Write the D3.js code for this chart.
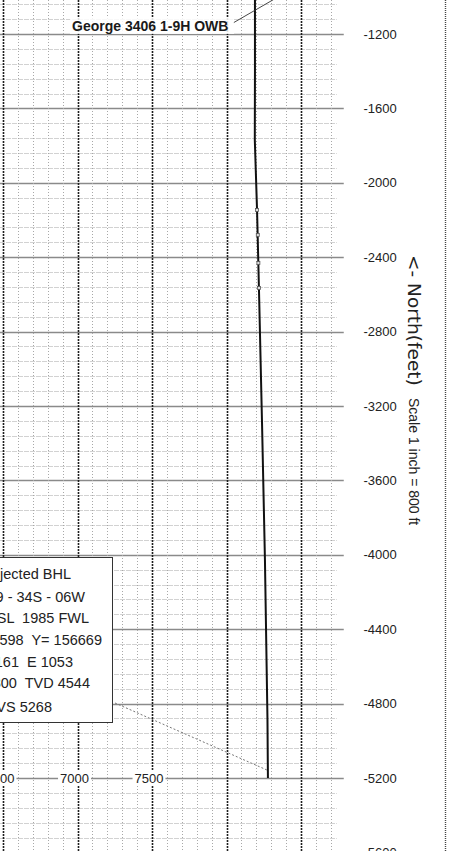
<!DOCTYPE html>
<html>
<head>
<meta charset="utf-8">
<script src="https://cdn.jsdelivr.net/npm/d3@7"></script>
<style>
  body { margin: 0; background: #fff; }
  svg { display: block; background: #fff; }
  text { font-family: "Liberation Sans", Arial, sans-serif; fill: #222; white-space: pre; }
</style>
</head>
<body>
<div id="chart"></div>
<script>
const width = 450;
const height = 851;

// well path (feet)
const trajEast = [8191, 8191, 8190, 8205, 8218, 8238, 8258, 8275, 8278];
const trajNorth = [-900, -1400, -1770, -2146, -2576, -3275, -4028, -4888, -5200];
// survey stations shown as tiny squares
const surveyEast = [8205, 8210, 8214, 8218];
const surveyNorth = [-2146, -2280, -2431, -2565];

const northTicks = [-1200, -1600, -2000, -2400, -2800, -3200, -3600, -4000, -4400, -4800, -5200, -5600];
const eastTicks = [6500, 7000, 7500];

const wellName = "George 3406 1-9H OWB";
const legendLines = [
  "Projected BHL",
  "Sec 9 - 34S - 06W",
  "660 FSL  1985 FWL",
  "X= 2130598  Y= 156669",
  "N -5161  E 1053",
  "MD 5800  TVD 4544",
  "VS 5268",
];

const x = d3.scaleLinear().domain([6500, 8500]).range([3, 301]);
const y = d3.scaleLinear().domain([-1200, -5200]).range([34, 778]);

const svg = d3
  .select("#chart")
  .append("svg")
  .attr("width", width)
  .attr("height", height);

// ---- grid ----
const gridRight = x(8740);
const grid = svg.append("g");

// horizontal lines every 80 ft, heavier every 400 ft
d3.range(-800, -5840, -80).forEach((v) => {
  const major = v % 400 === 0;
  const half = v % 200 === 0;
  grid
    .append("line")
    .attr("x1", 0)
    .attr("x2", half ? gridRight + 7 : gridRight)
    .attr("y1", Math.round(y(v)) + 0.5)
    .attr("y2", Math.round(y(v)) + 0.5)
    .attr("stroke", major ? "#8a8a8a" : "#d2d2d2")
    .attr("stroke-width", major ? 1.5 : 1)
    .attr("stroke-dasharray", major ? null : "5,1");
});

// vertical lines every 100 ft, heavier every 500 ft
d3.range(6500, 8741, 100).forEach((v) => {
  const major = v % 500 === 0;
  grid
    .append("line")
    .attr("x1", Math.round(x(v)) + 0.5)
    .attr("x2", Math.round(x(v)) + 0.5)
    .attr("y1", 0)
    .attr("y2", height)
    .attr("stroke", major ? "#1e1e1e" : "#a8a8a8")
    .attr("stroke-width", major ? 1.6 : 1)
    .attr("stroke-dasharray", major ? "2,1" : "1,2");
});

// right frame
svg
  .append("line")
  .attr("x1", 445.5)
  .attr("x2", 445.5)
  .attr("y1", 0)
  .attr("y2", height)
  .attr("stroke", "#444")
  .attr("stroke-width", 1.4)
  .attr("stroke-dasharray", "1,1");

// ---- north labels ----
svg
  .append("g")
  .selectAll("text")
  .data(northTicks)
  .enter()
  .append("text")
  .attr("x", 380)
  .attr("y", (d) => y(d))
  .attr("dy", "0.36em")
  .attr("text-anchor", "middle")
  .style("font-size", "13px")
  .text((d) => d);

// ---- east labels along the -5200 line ----
const eastG = svg.append("g");
eastTicks.forEach((d) => {
  const lbl = eastG
    .append("text")
    .attr("x", x(d) - 3)
    .attr("y", y(-5200))
    .attr("dy", "0.36em")
    .attr("text-anchor", "middle")
    .style("font-size", "13px")
    .text(d);
  const bb = lbl.node().getBBox();
  eastG
    .insert("rect", "text")
    .attr("x", bb.x - 2)
    .attr("y", bb.y)
    .attr("width", bb.width + 4)
    .attr("height", bb.height)
    .attr("fill", "#fff");
});

// ---- axis title (rotated) ----
svg
  .append("text")
  .attr("transform", "translate(408, 255) rotate(90)")
  .style("font-family", "'DejaVu Sans', Verdana, sans-serif")
  .style("font-size", "18.5px")
  .text("<- North(feet)");

svg
  .append("text")
  .attr("transform", "translate(409, 398) rotate(90)")
  .style("font-size", "14px")
  .text("Scale 1 inch = 800 ft");

// ---- well path ----
const pts = trajEast.map((e, i) => [e, trajNorth[i]]);
svg
  .append("path")
  .datum(pts)
  .attr("fill", "none")
  .attr("stroke", "#111")
  .attr("stroke-width", 2)
  .attr("d", d3.line().x((d) => x(d[0])).y((d) => y(d[1])));

svg
  .append("g")
  .selectAll("rect")
  .data(surveyNorth)
  .enter()
  .append("rect")
  .attr("x", (d, i) => x(surveyEast[i]) - 1.5)
  .attr("y", (d) => y(d) - 1.5)
  .attr("width", 3)
  .attr("height", 3)
  .attr("fill", "#ddd")
  .attr("stroke", "#555")
  .attr("stroke-width", 0.8);

// ---- well name ----
svg
  .append("line")
  .attr("x1", 233)
  .attr("y1", 23)
  .attr("x2", 290)
  .attr("y2", -10)
  .attr("stroke", "#333")
  .attr("stroke-width", 0.9);

svg
  .append("rect")
  .attr("x", 70)
  .attr("y", 18)
  .attr("width", 164)
  .attr("height", 16)
  .attr("fill", "#fff")
  .attr("opacity", 0.85);

svg
  .append("text")
  .attr("x", 72)
  .attr("y", 31)
  .style("font-size", "14px")
  .style("font-weight", "bold")
  .style("fill", "#1a1a1a")
  .text(wellName);

// ---- projected BHL box ----
const endX = x(trajEast[trajEast.length - 1]);
const endY = y(trajNorth[trajNorth.length - 1]);
svg
  .append("line")
  .attr("x1", 115)
  .attr("y1", 703)
  .attr("x2", endX - 1)
  .attr("y2", endY - 8)
  .attr("stroke", "#777")
  .attr("stroke-width", 1)
  .attr("stroke-dasharray", "2,2");

svg
  .append("rect")
  .attr("x", -5)
  .attr("y", 557.5)
  .attr("width", 117.5)
  .attr("height", 165)
  .attr("fill", "#fff")
  .attr("stroke", "#333")
  .attr("stroke-width", 1);

const lineEnds = [71, 85, 89, 102, 73, 90, 52];
const lineBase = [579, 602, 623, 645, 667, 688, 712];
svg
  .append("g")
  .selectAll("text")
  .data(legendLines)
  .enter()
  .append("text")
  .attr("x", (d, i) => lineEnds[i])
  .attr("y", (d, i) => lineBase[i])
  .attr("text-anchor", "end")
  .style("font-size", "14.5px")
  .text((d) => d);
</script>
</body>
</html>
